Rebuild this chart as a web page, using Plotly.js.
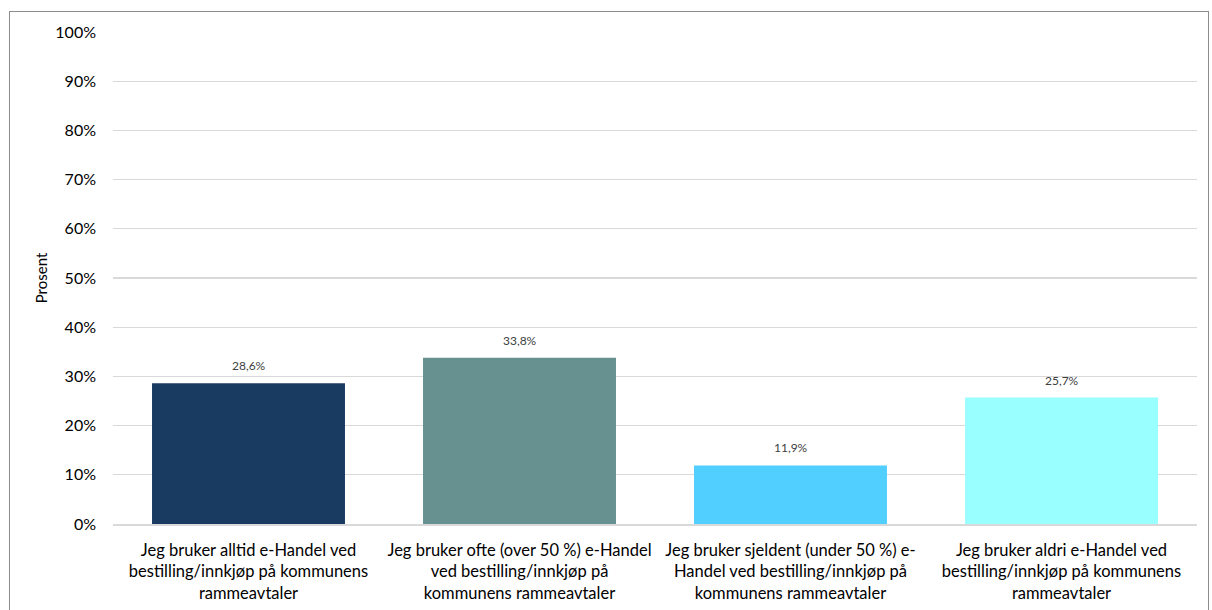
<!DOCTYPE html>
<html>
<head>
<meta charset="utf-8">
<script src="https://cdn.plot.ly/plotly-3.0.1.min.js"></script>
<style>
  html, body { margin: 0; padding: 0; background: #ffffff; overflow: hidden; }
  #wrap { position: relative; width: 1212px; height: 610px; }
  #frame { position: absolute; left: 9px; top: 11px; width: 1200px; height: 640px;
           border: 1px solid #8c8c8c; box-sizing: border-box; pointer-events: none; z-index: 5; }
  #chart { position: absolute; left: 0; top: 0; width: 1212px; height: 610px; }
</style>
</head>
<body>
<div id="wrap">
  <div id="chart"></div>
  <div id="frame"></div>
</div>
<script>
// Survey answers: how often e-Handel is used for ordering on framework agreements
const categories = [
  "Jeg bruker alltid e-Handel ved<br>bestilling/innkjøp på kommunens<br>rammeavtaler",
  "Jeg bruker ofte (over 50 %) e-Handel<br>ved bestilling/innkjøp på<br>kommunens rammeavtaler",
  "Jeg bruker sjeldent (under 50 %) e-<br>Handel ved bestilling/innkjøp på<br>kommunens rammeavtaler",
  "Jeg bruker aldri e-Handel ved<br>bestilling/innkjøp på kommunens<br>rammeavtaler"
];
const shares = [0.286, 0.338, 0.119, 0.257];
const valueLabels = ["28,6%", "33,8%", "11,9%", "25,7%"];
const barColors = ["#193b62", "#669190", "#51cfff", "#99ffff"];
const yTickValues = [0, 0.1, 0.2, 0.3, 0.4, 0.5, 0.6, 0.7, 0.8, 0.9, 1.0];
const yTickLabels = ["0%", "10%", "20%", "30%", "40%", "50%", "60%", "70%", "80%", "90%", "100%"];

const font = "Lato, 'Open Sans', sans-serif";

const trace = {
  type: "bar",
  x: categories,
  y: shares,
  marker: { color: barColors, line: { width: 0 } },
  hoverinfo: "skip"
};

const annotations = categories.map((c, i) => ({
  x: c, y: shares[i], xref: "x", yref: "y",
  text: valueLabels[i], showarrow: false,
  yanchor: "bottom", yshift: 8,
  font: { family: font, size: 12, color: "#404040" }
}));

const layout = {
  width: 1212, height: 610,
  margin: { l: 113, r: 15, t: 32, b: 86 },
  paper_bgcolor: "#ffffff", plot_bgcolor: "#ffffff",
  bargap: 0.288,
  showlegend: false,
  font: { family: font, color: "#000000" },
  xaxis: {
    type: "category",
    showgrid: false, zeroline: false,
    showline: true, linecolor: "#d9d9d9", linewidth: 2,
    ticks: "", ticklabelstandoff: 10,
    tickfont: { family: font, size: 16.5, color: "#000000" },
    fixedrange: true
  },
  yaxis: {
    range: [0, 1.0],
    tickvals: yTickValues, ticktext: yTickLabels,
    showgrid: true, gridcolor: "#d9d9d9", gridwidth: 1.3,
    zeroline: false, showline: false,
    ticks: "", ticklabelstandoff: 16,
    tickfont: { family: font, size: 16, color: "#000000" },
    title: { text: "Prosent", font: { family: font, size: 15, color: "#000000" }, standoff: 4 },
    fixedrange: true
  },
  annotations: annotations
};

Plotly.newPlot("chart", [trace], layout, { displayModeBar: false, staticPlot: true });
</script>
</body>
</html>
